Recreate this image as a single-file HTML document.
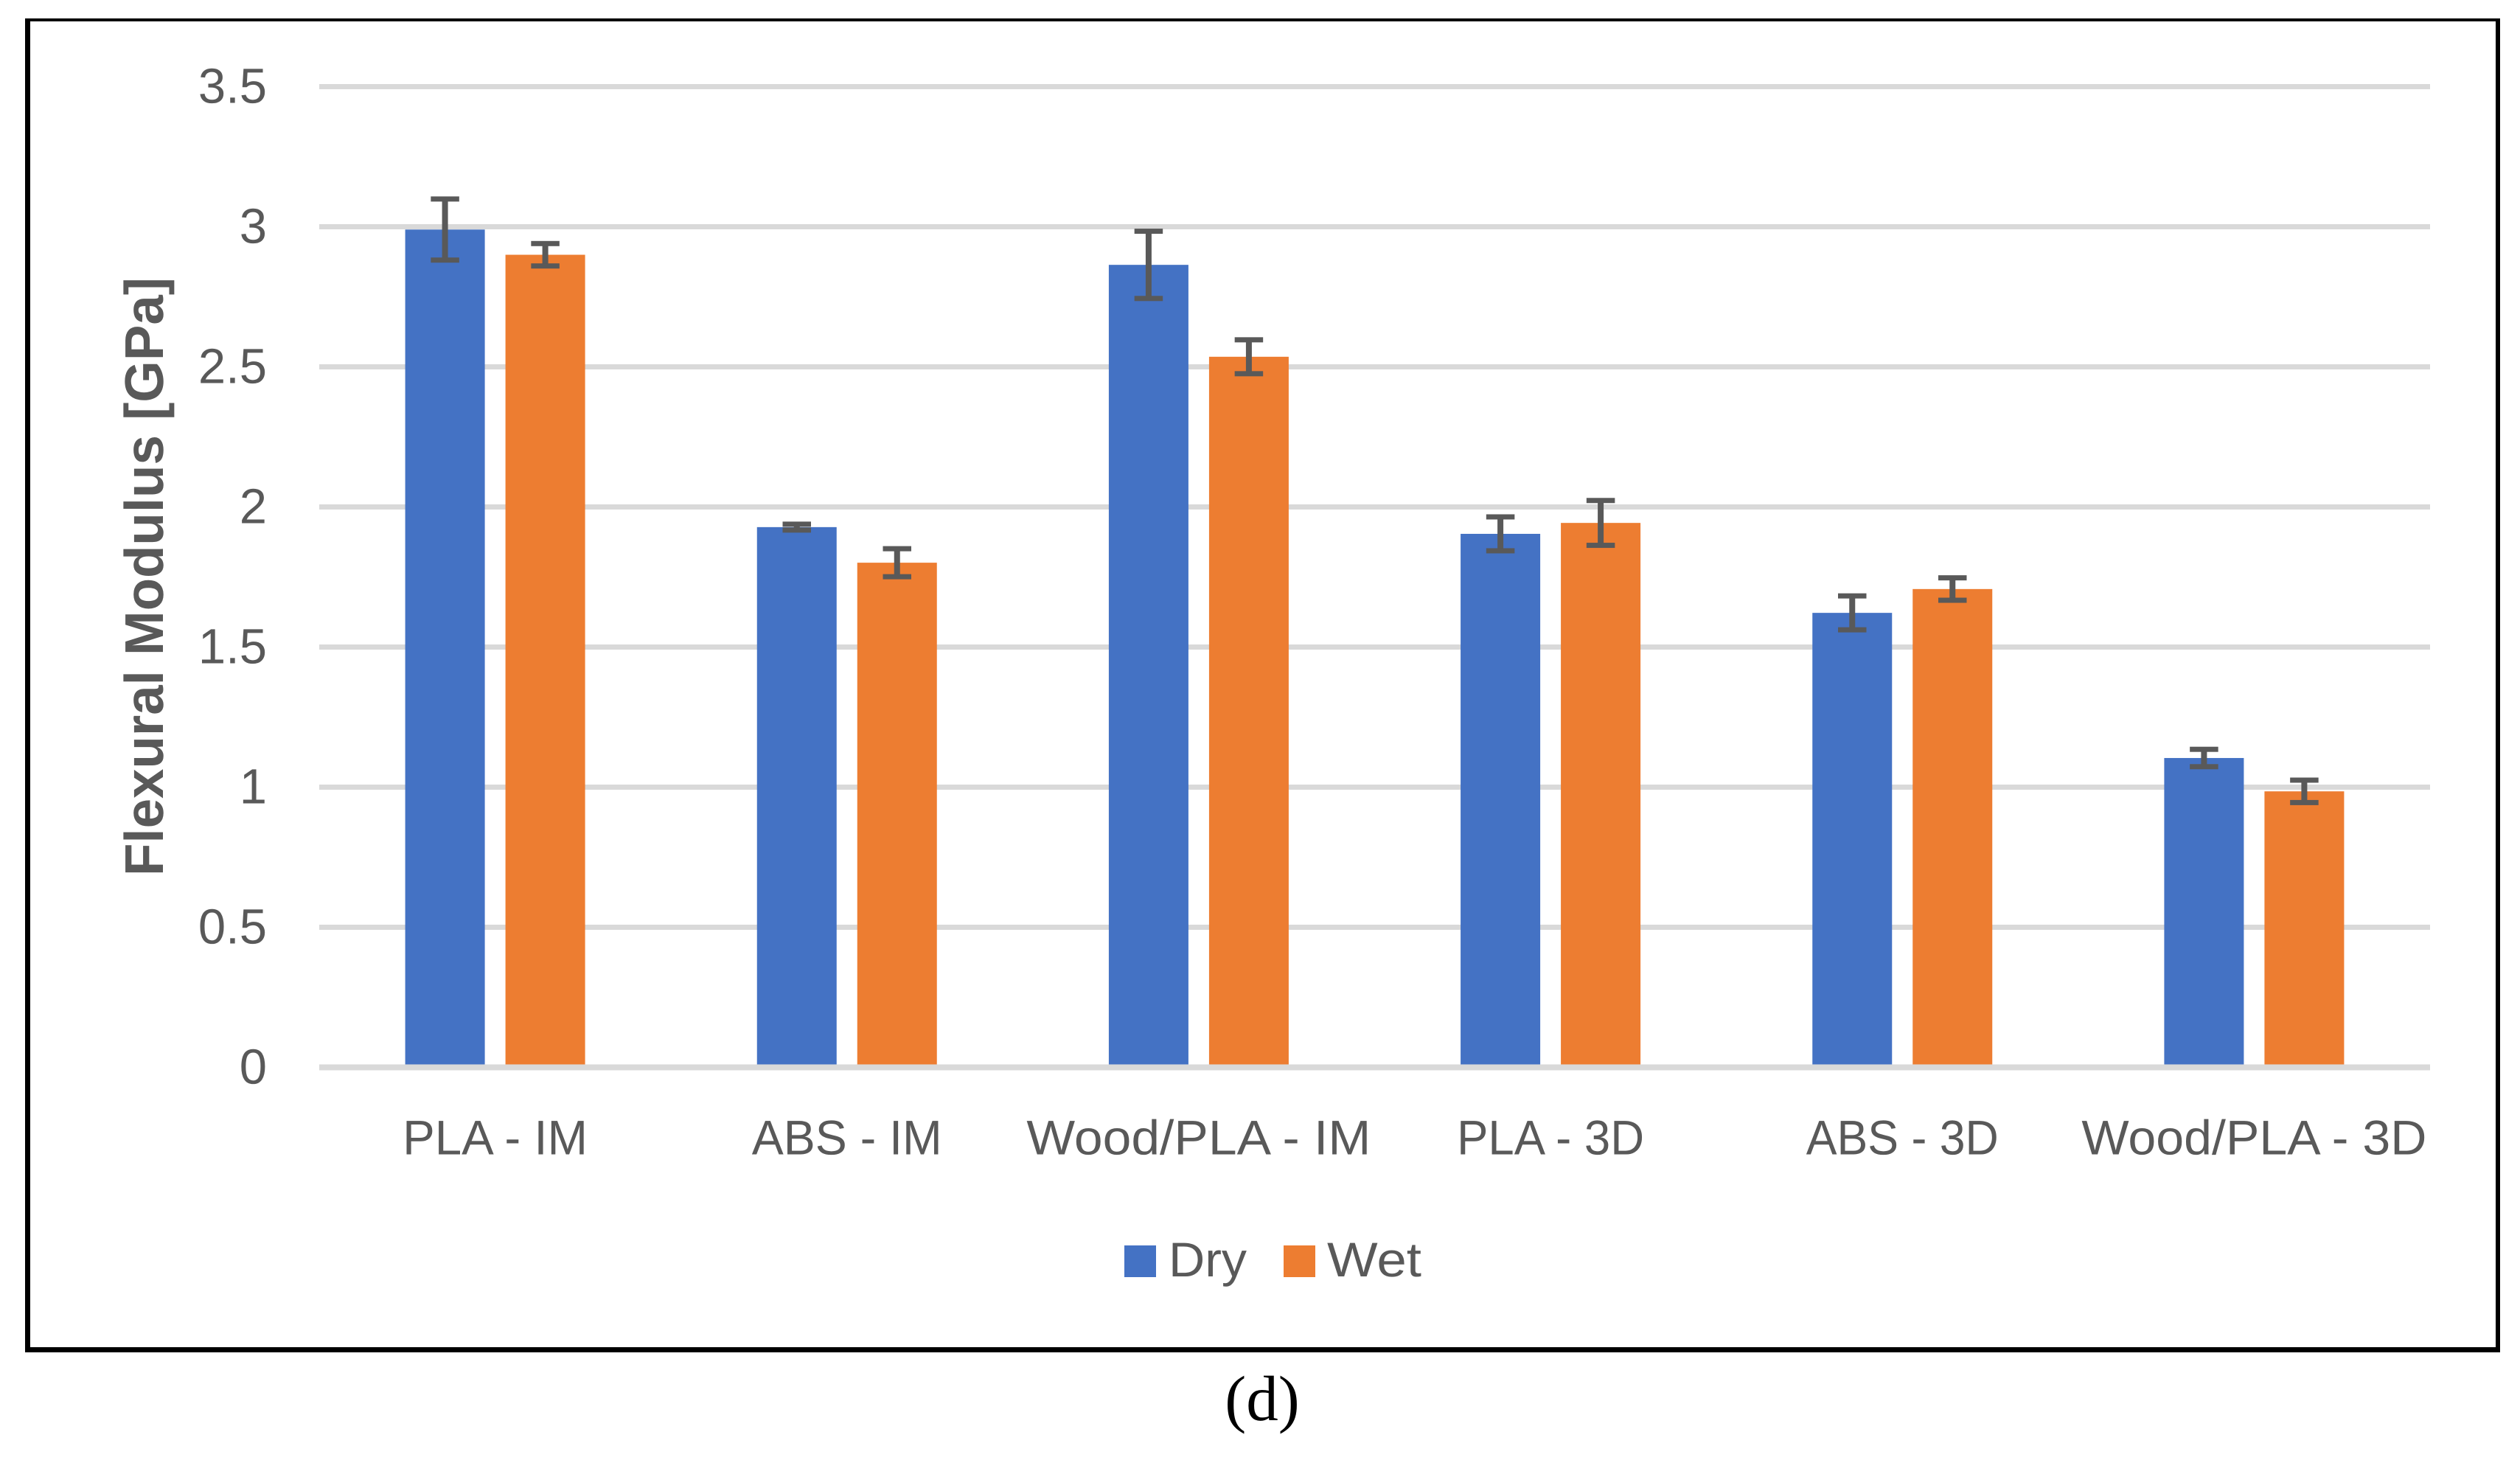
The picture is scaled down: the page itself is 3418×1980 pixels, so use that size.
<!DOCTYPE html>
<html lang="en">
<head>
<meta charset="utf-8">
<title>Flexural Modulus chart</title>
<style>
  html, body { margin: 0; padding: 0; background: #ffffff; }
  svg { display: block; text-rendering: geometricPrecision; }
  text { font-family: "Liberation Sans", sans-serif; fill: #595959; }
</style>
</head>
<body>
<svg id="chart" xmlns="http://www.w3.org/2000/svg" width="3418" height="1980" viewBox="0 0 3418 1980">
  <rect x="0" y="0" width="3418" height="1980" fill="#ffffff"/>
  <path fill="#000000" fill-rule="evenodd" d="M34 25H3391V1834H34Z M41 29V1827H3385V29Z"/>
  <g id="grid"></g>
  <g id="bars"></g>
  <g id="baseline"></g>
  <g id="errors"></g>
  <g id="yticks"></g>
  <g id="xticks"></g>
  <g id="legend"></g>
  <text transform="translate(221 782) rotate(-90)" text-anchor="middle" font-size="74" font-weight="700" textLength="812" lengthAdjust="spacingAndGlyphs">Flexural Modulus [GPa]</text>
  <text x="1712" y="1926" text-anchor="middle" font-size="87" style="font-family:'Liberation Serif',serif;fill:#000000">(d)</text>
</svg>
<script>
const categories = ["PLA - IM", "ABS - IM", "Wood/PLA - IM", "PLA - 3D", "ABS - 3D", "Wood/PLA - 3D"];
const seriesNames = ["Dry", "Wet"];
const dryValues = [2.99, 1.928, 2.864, 1.904, 1.622, 1.104];
const wetValues = [2.90, 1.801, 2.536, 1.943, 1.707, 0.985];
const dryErrors = [0.109, 0.0105, 0.12, 0.0605, 0.0605, 0.031];
const wetErrors = [0.04, 0.05, 0.0605, 0.08, 0.04, 0.04];
const tickValues = [0, 0.5, 1, 1.5, 2, 2.5, 3, 3.5];
const tickLabels = ["0", "0.5", "1", "1.5", "2", "2.5", "3", "3.5"];

const SVG_NS = "http://www.w3.org/2000/svg";
const plotLeft = 433, plotRight = 3296, zeroY = 1447.5, unitPx = 380;
const barWidth = 108, barOffset = 68, capWidth = 38.5;
const seriesColors = ["#4472c4", "#ed7d31"];
const errorColor = "#595959", gridColor = "#d9d9d9";

function yScale(v) { return zeroY - unitPx * v; }
function xBand(i) { return plotLeft + (plotRight - plotLeft) / categories.length * (i + 0.5); }
function make(tag, attrs, parentId, text) {
  const node = document.createElementNS(SVG_NS, tag);
  for (const k in attrs) node.setAttribute(k, attrs[k]);
  if (text !== undefined) node.textContent = text;
  document.getElementById(parentId).appendChild(node);
  return node;
}

tickValues.forEach(function (v, i) {
  const y = yScale(v);
  if (v !== 0) {
    const g = make("rect", { x: plotLeft, y: y - 3.5, width: plotRight - plotLeft, height: 7, fill: gridColor }, "grid");
    
    
  }
  const t = make("text", { x: 362, y: y + 22, "text-anchor": "end", "font-size": 67 }, "yticks", tickLabels[i]);
  
  
});

const axisLine = make("rect", { x: plotLeft, y: yScale(0) - 4, width: plotRight - plotLeft, height: 8, fill: gridColor }, "baseline");



function drawSeries(values, errors, color, sign) {
  values.forEach(function (v, i) {
    const cx = xBand(i) + sign * barOffset;
    const top = yScale(v);
    const bar = make("rect", { x: cx - barWidth / 2, y: top, width: barWidth, height: yScale(0) - top, fill: color }, "bars");
    
    

    const hi = yScale(v + errors[i]);
    const lo = yScale(v - errors[i]);
    const stem = make("rect", { x: cx - 4, y: hi, width: 8, height: Math.max(lo - hi, 0), fill: errorColor }, "errors");
    
    
    const capTop = make("rect", { x: cx - capWidth / 2, y: hi - 3.5, width: capWidth, height: 7, fill: errorColor }, "errors");
    
    
    const capBottom = make("rect", { x: cx - capWidth / 2, y: lo - 3.5, width: capWidth, height: 7, fill: errorColor }, "errors");
    
    
  });
}
drawSeries(dryValues, dryErrors, seriesColors[0], -1);
drawSeries(wetValues, wetErrors, seriesColors[1], 1);

function drawCategoryLabels() {
  const fit = { "PLA - IM": 251, "ABS - IM": 258, "Wood/PLA - IM": 467, "PLA - 3D": 254, "ABS - 3D": 261, "Wood/PLA - 3D": 468 };
  categories.forEach(function (name, i) {
    const attrs = { x: xBand(i), y: 1565.5, "text-anchor": "middle", "font-size": 66 };
    if (fit[name]) { attrs.textLength = fit[name]; attrs.lengthAdjust = "spacingAndGlyphs"; }
    const t = make("text", attrs, "xticks", name);
    
    
  });
}
drawCategoryLabels();

function drawLegend() {
  const textWidths = [106, 128];
  seriesNames.forEach(function (name, i) {
    const sx = 1525 + 216 * i;
    const s = make("rect", { x: sx, y: 1689, width: 43, height: 43, fill: seriesColors[i] }, "legend");
    
    
    const t = make("text", { x: sx + 60 - i * 1, y: 1731, "font-size": 66, textLength: textWidths[i], lengthAdjust: "spacingAndGlyphs" }, "legend", name);
    
    
  });
}
drawLegend();
</script>
</body>
</html>
